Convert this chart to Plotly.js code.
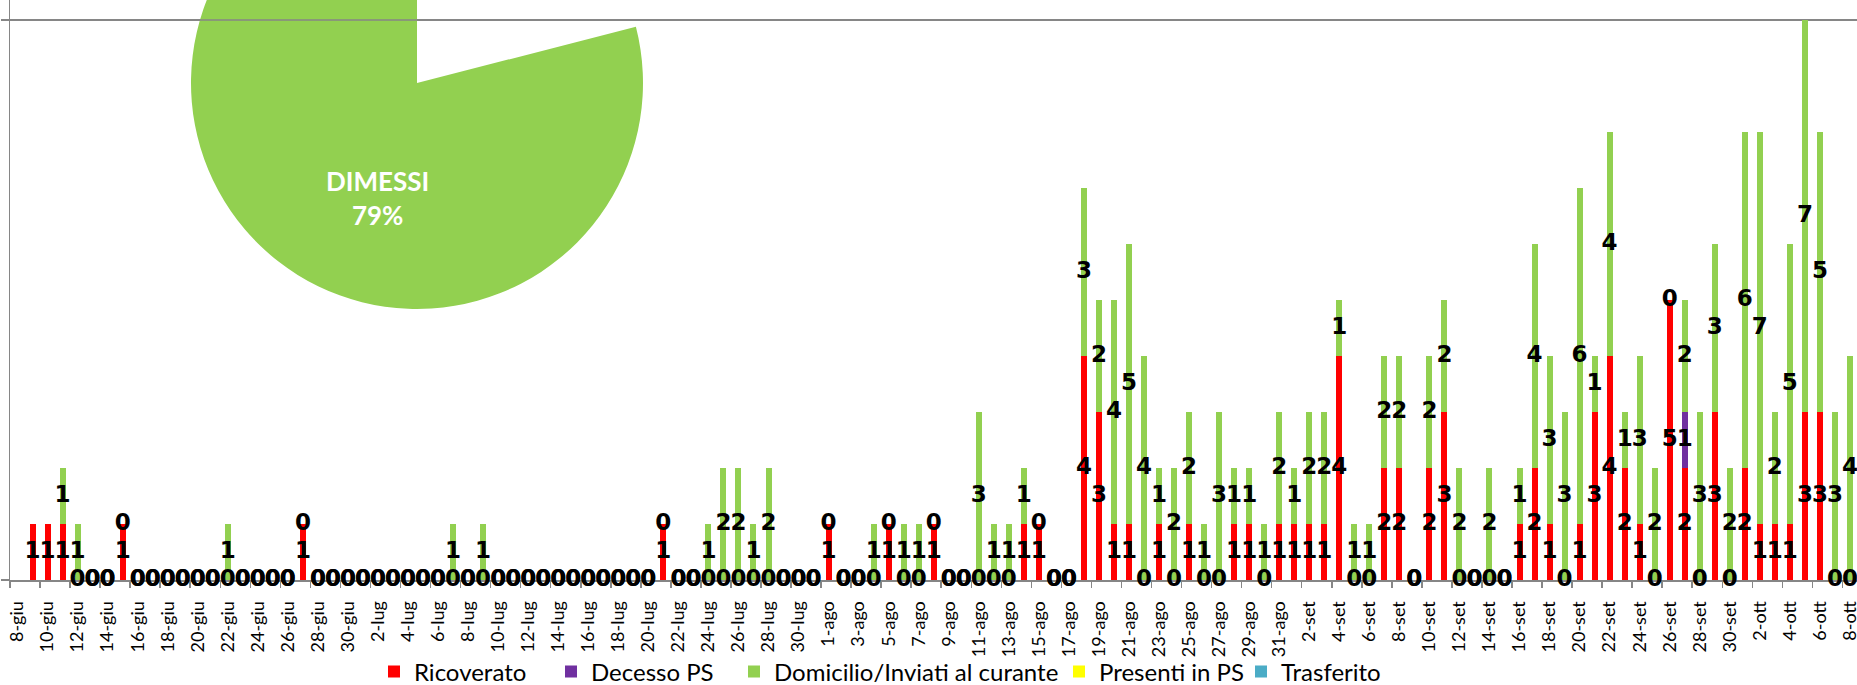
<!DOCTYPE html>
<html>
<head>
<meta charset="utf-8">
<script src="https://cdn.plot.ly/plotly-3.0.1.min.js"></script>
<style>
  html, body { margin: 0; padding: 0; background: #ffffff; overflow: hidden; }
  #chart { position: absolute; left: 0; top: -160px; width: 1857px; height: 905px; }
</style>
</head>
<body>
<div id="chart"></div>
<script>
// ---------------- DATA ----------------
const categories = [
  "8-giu","9-giu","10-giu","11-giu","12-giu","13-giu","14-giu","15-giu","16-giu","17-giu","18-giu","19-giu","20-giu","21-giu","22-giu","23-giu","24-giu","25-giu","26-giu","27-giu","28-giu","29-giu","30-giu",
  "1-lug","2-lug","3-lug","4-lug","5-lug","6-lug","7-lug","8-lug","9-lug","10-lug","11-lug","12-lug","13-lug","14-lug","15-lug","16-lug","17-lug","18-lug","19-lug","20-lug","21-lug","22-lug","23-lug","24-lug","25-lug","26-lug","27-lug","28-lug","29-lug","30-lug","31-lug",
  "1-ago","2-ago","3-ago","4-ago","5-ago","6-ago","7-ago","8-ago","9-ago","10-ago","11-ago","12-ago","13-ago","14-ago","15-ago","16-ago","17-ago","18-ago","19-ago","20-ago","21-ago","22-ago","23-ago","24-ago","25-ago","26-ago","27-ago","28-ago","29-ago","30-ago","31-ago",
  "1-set","2-set","3-set","4-set","5-set","6-set","7-set","8-set","9-set","10-set","11-set","12-set","13-set","14-set","15-set","16-set","17-set","18-set","19-set","20-set","21-set","22-set","23-set","24-set","25-set","26-set","27-set","28-set","29-set","30-set",
  "1-ott","2-ott","3-ott","4-ott","5-ott","6-ott","7-ott","8-ott"
];

const ricoverato = [
  null,1,1,1,0,0,0,1,0,0,0,0,0,0,0,0,0,0,0,1,0,0,0,
  0,0,0,0,0,0,0,0,0,0, 0,0,0,0,0,0,0,0,0,0, 1,0,0,0,0,0,0,0,0,0, 0,
  1,0,0,0,1,0,0,1,0,0, 0,0,0,1,1,0,0,4,3,1, 1,0,1,0,1,0,0,1,1,0, 1,
  1,1,1,4,0,0,2,2,0,2, 3,0,0,0,0,1,2,1,0,1, 3,4,2,1,0,5,2,0,3,0,
  2,1,1,1,3,3,0,0
];

const decessoPS = [
  null,null,null,null,null,null,null,null,null,null,null,null,null,null,null,null,null,null,null,null,null,null,null,
  null,null,null,null,null,null,null,null,null,null,null,null,null,null,null,null,null,null,null,null,null,null,null,null,null,null,null,null,null,null,null,
  null,null,null,null,null,null,null,null,null,null,null,null,null,null,null,null,null,null,null,null,null,null,null,null,null,null,null,null,null,null,null,
  null,null,null,null,null,null,null,null,null,null,null,null,null,null,null,null,null,null,null,null,null,null,null,null,null,null,1,null,null,null,
  null,null,null,null,null,null,null,null
];

const domicilio = [
  null,null,null,1,1,0,0,0,0,0,0,0,0,0,1,0,0,0,0,0,0,0,0,
  0,0,0,0,0,0,1,0,1,0, 0,0,0,0,0,0,0,0,0,0, 0,0,0,1,2,2,1,2,0,0, 0,
  0,0,0,1,0,1,1,0,0,0, 3,1,1,1,0,0,0,3,2,4, 5,4,1,2,2,1,3,1,1,1, 2,
  1,2,2,1,1,1,2,2,0,2, 2,2,0,2,0,1,4,3,3,6, 1,4,1,3,2,0,2,3,3,2,
  6,7,2,5,7,5,3,4
];

const presentiPS = [
  null,null,null,null,null,null,null,null,null,null,null,null,null,null,null,null,null,null,null,null,null,null,null,
  null,null,null,null,null,null,null,null,null,null,null,null,null,null,null,null,null,null,null,null,null,null,null,null,null,null,null,null,null,null,null,
  null,null,null,null,null,null,null,null,null,null,null,null,null,null,null,null,null,null,null,null,null,null,null,null,null,null,null,null,null,null,null,
  null,null,null,null,null,null,null,null,null,null,null,null,null,null,null,null,null,null,null,null,null,null,null,null,null,null,null,null,null,null,
  null,null,null,null,null,null,null,null
];

const trasferito = [
  null,null,null,null,null,null,null,null,null,null,null,null,null,null,null,null,null,null,null,null,null,null,null,
  null,null,null,null,null,null,null,null,null,null,null,null,null,null,null,null,null,null,null,null,null,null,null,null,null,null,null,null,null,null,null,
  null,null,null,null,null,null,null,null,null,null,null,null,null,null,null,null,null,null,null,null,null,null,null,null,null,null,null,null,null,null,null,
  null,null,null,null,null,null,null,null,null,null,null,null,null,null,null,null,null,null,null,null,null,null,null,null,null,null,null,null,null,null,
  null,null,null,null,null,null,null,null
];

const seriesNames  = ["Ricoverato", "Decesso PS", "Domicilio/Inviati al curante", "Presenti in PS", "Trasferito"];
const seriesColors = ["#FF0000", "#7030A0", "#92D050", "#FFFF00", "#4BACC6"];

const pieLabels = ["", "DIMESSI"];
const pieValues = [21, 79];

// ---------------- GEOMETRY (pixels) ----------------
const HIDDEN_TOP = 160, HIDDEN_BOTTOM = 60;   // figure parts outside the visible window
const FIG_W = 1857, FIG_H = 685 + HIDDEN_TOP + HIDDEN_BOTTOM;
const M_L = 10, M_R = 0, M_T = 0, M_B = 105 + HIDDEN_BOTTOM;
const PLOT_W = FIG_W - M_L - M_R, PLOT_H = FIG_H - M_T - M_B;
const PX_PER_UNIT = 56;
const AX = "#868686";

function paperX(px) { return (px - M_L) / PLOT_W; }
function paperY(pyScreen) { return 1 - (pyScreen + HIDDEN_TOP - M_T) / PLOT_H; }

// ---------------- TRACES ----------------
const seriesData = [ricoverato, decessoPS, domicilio, presentiPS, trasferito];
const traces = seriesData.map((vals, k) => ({
  type: "bar",
  name: seriesNames[k],
  x: categories,
  y: vals,
  marker: { color: seriesColors[k], line: { width: 0 } },
  hoverinfo: "skip",
  legend: k === 0 ? "legend" : "legend" + (k + 1)
}));

// data labels: centre of each stacked segment (zero segments sit on the stack)
const lx = [], ly = [], lt = [];
categories.forEach((c, i) => {
  let base = 0;
  seriesData.forEach(arr => {
    const v = arr[i];
    if (v !== null && v !== undefined) {
      lx.push(c); ly.push(base + v / 2); lt.push(String(v));
      base += v;
    }
  });
});
traces.push({
  type: "scatter", mode: "text", x: lx, y: ly, text: lt,
  textposition: "middle center",
  textfont: { family: "DejaVu Sans", size: 23, color: "#000000", weight: "bold" },
  cliponaxis: false, showlegend: false, hoverinfo: "skip"
});

// pie (partially outside the visible window)
const pieCx = 417, pieCy = 83, pieR = 226;
const pieDomX = [paperX(pieCx - pieR), paperX(pieCx + pieR)];
const pieDomY = [paperY(pieCy + pieR), paperY(pieCy - pieR)];
traces.push({
  type: "pie", labels: pieLabels, values: pieValues, sort: false,
  direction: "clockwise", rotation: 0,
  marker: { colors: ["rgba(255,255,255,0)", "#92D050"], line: { width: 0 } },
  textinfo: "none", hoverinfo: "skip", showlegend: false,
  domain: { x: pieDomX, y: pieDomY }
});
const pieTotal = pieValues.reduce((a, b) => a + b, 0);
const pieText = pieLabels[1] + "<br>" + Math.round(100 * pieValues[1] / pieTotal) + "%";

// ---------------- LAYOUT ----------------
const legendCenters = [394, 571, 754, 1079, 1261];
const legendFont = { family: "Lato", size: 24, color: "#000000" };
const layout = {
  width: FIG_W, height: FIG_H,
  margin: { l: M_L, r: M_R, t: M_T, b: M_B, autoexpand: false },
  paper_bgcolor: "#ffffff", plot_bgcolor: "#ffffff",
  barmode: "stack", bargap: 0.6,
  showlegend: true,
  xaxis: {
    type: "category", range: [-0.5, -0.5 + PLOT_W / 15.02],
    showline: true, linecolor: AX, linewidth: 2,
    ticks: "outside", ticklen: 6, tickwidth: 1.5, tickcolor: AX,
    tickson: "boundaries", tickmode: "linear", tick0: 0, dtick: 2,
    tickangle: -90, ticklabelstandoff: 12,
    tickfont: { family: "Lato", size: 18, color: "#000000" },
    showgrid: false, zeroline: false, layer: "below traces", fixedrange: true
  },
  yaxis: {
    range: [0, PLOT_H / PX_PER_UNIT],
    showline: true, linecolor: AX, linewidth: 1.5,
    ticks: "outside", ticklen: 8, tickwidth: 1.5, tickcolor: AX,
    tickmode: "linear", tick0: 0, dtick: 10, showticklabels: false,
    showgrid: true, gridcolor: AX, gridwidth: 1.5,
    zeroline: false, layer: "below traces", fixedrange: true
  },
  annotations: [{
    xref: "paper", yref: "paper", x: paperX(377), y: paperY(198),
    xanchor: "center", yanchor: "middle", showarrow: false,
    text: pieText,
    font: { family: "Lato", size: 26, color: "#ffffff", weight: "bold" }
  }],
  shapes: [{
    type: "line", layer: "above", xref: "paper", yref: "y",
    x0: pieDomX[0], x1: pieDomX[1], y0: 10, y1: 10,
    line: { color: AX, width: 1.5 }
  }]
};
legendCenters.forEach((c, k) => {
  layout[k === 0 ? "legend" : "legend" + (k + 1)] = {
    orientation: "h", x: paperX(c - 20), xanchor: "left",
    y: paperY(672), yanchor: "middle",
    font: legendFont, bgcolor: "rgba(0,0,0,0)", borderwidth: 0
  };
});

Plotly.newPlot("chart", traces, layout, { staticPlot: true, displayModeBar: false });
</script>
</body>
</html>
